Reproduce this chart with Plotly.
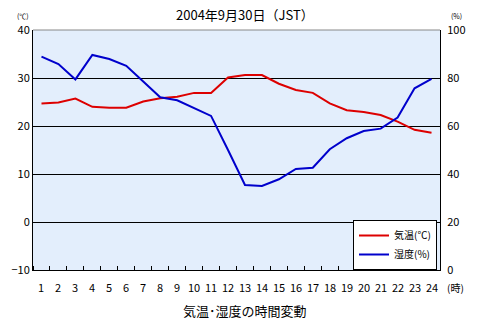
import plotly.graph_objects as go

hours = list(range(1, 25))
temperature = [24.7, 24.9, 25.7, 24.0, 23.8, 23.8, 25.1, 25.8, 26.1, 26.9, 26.9, 30.1,
               30.6, 30.6, 28.8, 27.5, 26.9, 24.7, 23.3, 22.9, 22.3, 20.9, 19.2, 18.6]
humidity = [88.9, 85.8, 79.4, 89.6, 87.9, 85.1, 78.5, 72.0, 70.7, 67.4, 64.2, 50.0,
            35.4, 35.0, 37.8, 42.1, 42.6, 50.3, 54.9, 57.9, 58.9, 63.5, 75.7, 79.6]
temp_ticks = [-10, 0, 10, 20, 30, 40]
hum_ticks = [0, 20, 40, 60, 80, 100]

FONT = "Noto Sans CJK JP, Noto Sans, sans-serif"

fig = go.Figure()
fig.add_trace(go.Scatter(x=hours, y=temperature, name="気温(℃)", mode="lines",
                         line=dict(color="#dd0000", width=2)))
fig.add_trace(go.Scatter(x=hours, y=humidity, name="湿度(%)", mode="lines",
                         line=dict(color="#0000cc", width=2), yaxis="y2"))

hour_labels = [dict(text=str(h), x=h, xref="x", y=0, yref="paper", yanchor="middle",
                    yshift=-17, showarrow=False, font=dict(size=11)) for h in hours]

fig.update_layout(
    width=492, height=331,
    margin=dict(l=33, r=52, t=30, b=61),
    paper_bgcolor="white", plot_bgcolor="#e3eefc",
    font=dict(family=FONT, size=11, color="black"),
    showlegend=True,
    legend=dict(x=(437 - 33) / 407, xanchor="right", y=(270 - 245) / 240, yanchor="middle",
                bgcolor="white", bordercolor="black", borderwidth=1,
                font=dict(size=10), tracegroupgap=0, itemwidth=30),
    xaxis=dict(type="linear", range=[0.5, 24.5], tickmode="array", tickvals=hours,
               showticklabels=False, showline=True, linecolor="black",
               linewidth=1, ticks="", showgrid=False, zeroline=False,
               minor=dict(tickmode="linear", tick0=0.5, dtick=1, ticks="inside",
                          ticklen=4, tickcolor="black", showgrid=False)),
    yaxis=dict(range=[-10, 40], tickvals=temp_ticks, showline=True, linecolor="black",
               showgrid=True, gridcolor="black", gridwidth=1, zeroline=False,
               ticks="", tickfont=dict(size=11)),
    yaxis2=dict(range=[0, 100], tickvals=hum_ticks, overlaying="y", side="right",
                showline=True, linecolor="black", showgrid=False, zeroline=False,
                ticks="", tickfont=dict(size=11), ticklabelstandoff=4),
    shapes=[dict(type="line", xref="paper", yref="paper", x0=0, x1=1, y0=1, y1=1,
                 line=dict(color="#888888", width=1))],
    annotations=hour_labels + [
        dict(text="2004年9月30日（JST）", xref="paper", yref="paper", x=0.52, y=1,
             yanchor="middle", yshift=16, showarrow=False, font=dict(size=13)),
        dict(text="(℃)", xref="paper", yref="paper", x=0, y=1, xshift=-18, yshift=14,
             yanchor="middle", showarrow=False, font=dict(size=7)),
        dict(text="(%)", xref="paper", yref="paper", x=1, y=1, xshift=24, yshift=14,
             yanchor="middle", showarrow=False, font=dict(size=7)),
        dict(text="(時)", xref="paper", yref="paper", x=1, y=0, xshift=26, yshift=-17,
             yanchor="middle", showarrow=False, font=dict(size=10)),
        dict(text="気温･湿度の時間変動", xref="paper", yref="paper", x=0.52, y=0,
             yanchor="middle", yshift=-40, showarrow=False, font=dict(size=13)),
    ],
)

fig.write_html("out.html")
